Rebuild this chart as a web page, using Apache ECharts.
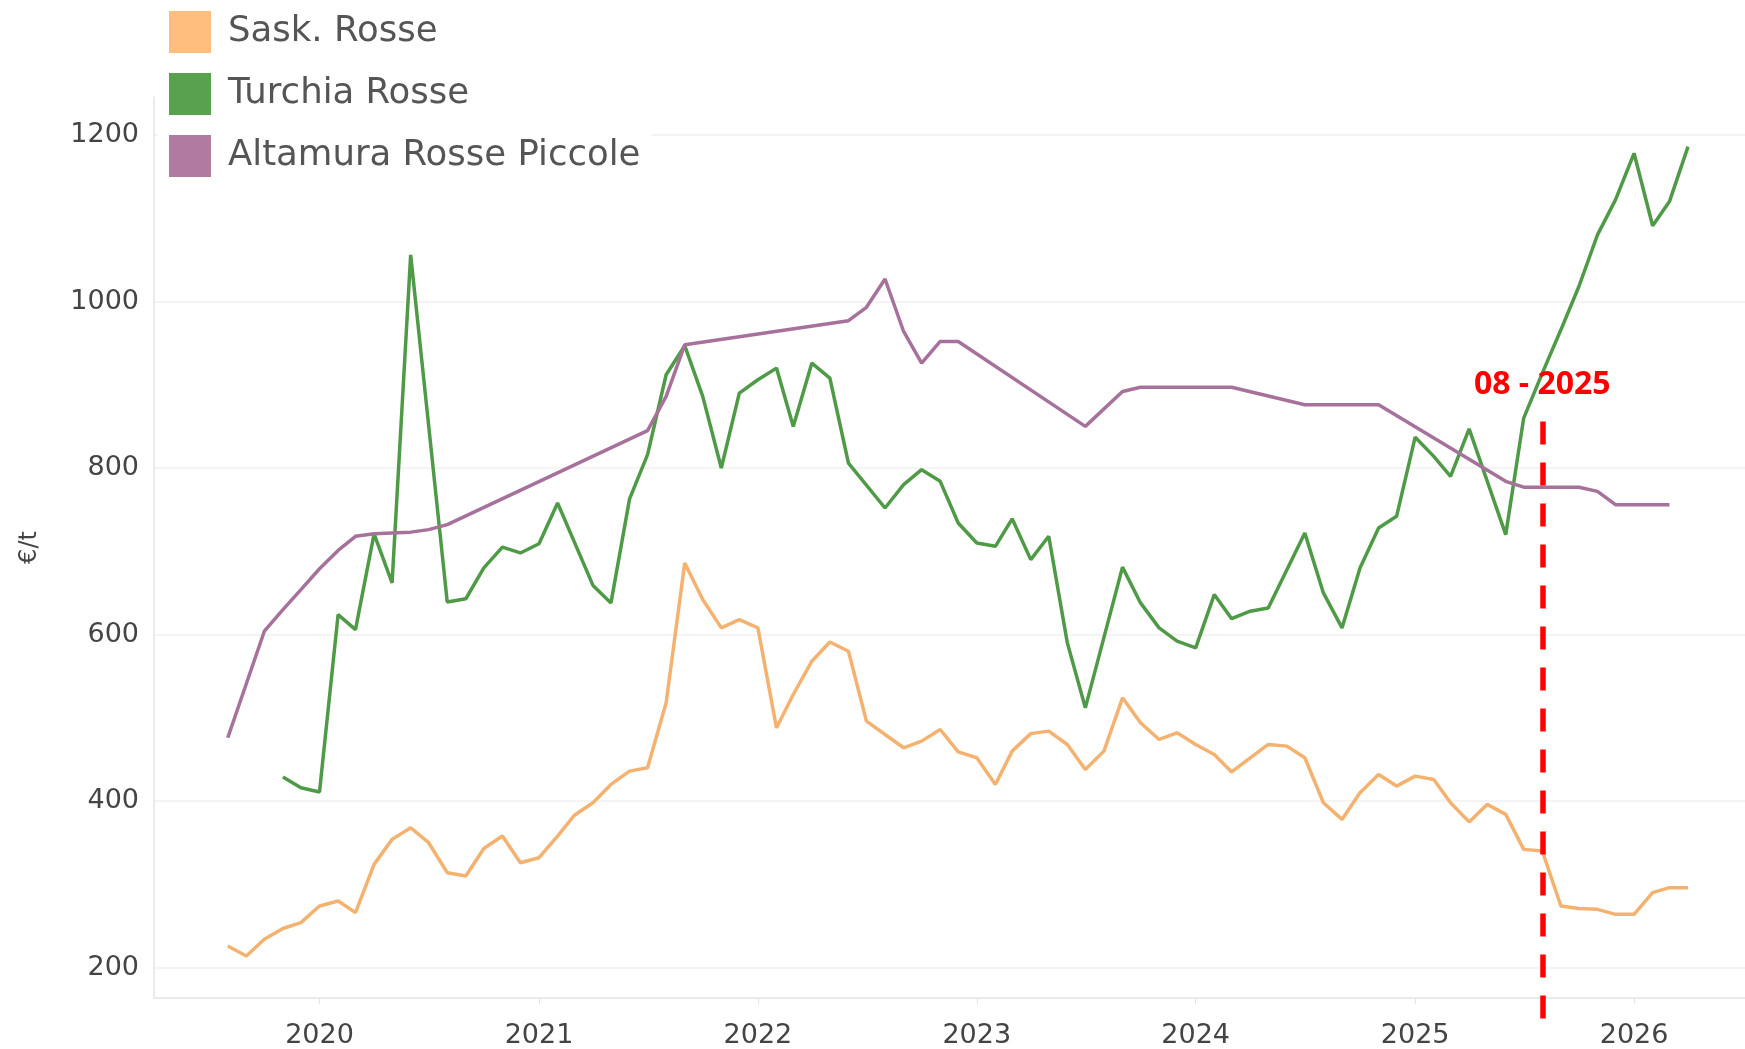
<!DOCTYPE html>
<html>
<head>
<meta charset="utf-8">
<script src="https://cdn.jsdelivr.net/npm/echarts@6/dist/echarts.min.js"></script>
<style>
  html, body { margin: 0; padding: 0; background: #fff; }
  #chart { width: 1745px; height: 1049px; }
</style>
</head>
<body>
<div id="chart"></div>
<script>
// monthly prices, €/t (null = no quote that month)
const months = [
    "2019-08-01", "2019-09-01", "2019-10-01", "2019-11-01", "2019-12-01",
    "2020-01-01", "2020-02-01", "2020-03-01", "2020-04-01", "2020-05-01", "2020-06-01",
    "2020-07-01", "2020-08-01", "2020-09-01", "2020-10-01", "2020-11-01", "2020-12-01",
    "2021-01-01", "2021-02-01", "2021-03-01", "2021-04-01", "2021-05-01", "2021-06-01",
    "2021-07-01", "2021-08-01", "2021-09-01", "2021-10-01", "2021-11-01", "2021-12-01",
    "2022-01-01", "2022-02-01", "2022-03-01", "2022-04-01", "2022-05-01", "2022-06-01",
    "2022-07-01", "2022-08-01", "2022-09-01", "2022-10-01", "2022-11-01", "2022-12-01",
    "2023-01-01", "2023-02-01", "2023-03-01", "2023-04-01", "2023-05-01", "2023-06-01",
    "2023-07-01", "2023-08-01", "2023-09-01", "2023-10-01", "2023-11-01", "2023-12-01",
    "2024-01-01", "2024-02-01", "2024-03-01", "2024-04-01", "2024-05-01", "2024-06-01",
    "2024-07-01", "2024-08-01", "2024-09-01", "2024-10-01", "2024-11-01", "2024-12-01",
    "2025-01-01", "2025-02-01", "2025-03-01", "2025-04-01", "2025-05-01", "2025-06-01",
    "2025-07-01", "2025-08-01", "2025-09-01", "2025-10-01", "2025-11-01", "2025-12-01",
    "2026-01-01", "2026-02-01", "2026-03-01", "2026-04-01",
];

const saskRosse = [
    226, 214, 234, 247, 254,
    274, 280, 266, 324, 354, 368, 350, 314, 310, 343, 358, 326,
    332, 358, 383, 398, 420, 436, 440, 518, 686, 642, 608, 618,
    608, 488, 528, 568, 591, 580, 496, 480, 464, 472, 486, 459,
    452, 420, 460, 481, 484, 468, 438, 460, 524, 494, 474, 482,
    468, 456, 435, 452, 468, 466, 452, 398, 378, 410, 432, 418,
    430, 426, 398, 375, 396, 384, 342, 340, 274, 271, 270, 264,
    264, 290, 296, 296,
];

const turchiaRosse = [
    null, null, null, 429, 416,
    411, 624, 606, 721, 662, 1056, null, 639, 643, 680, 705, 698,
    709, 758, null, 659, 638, 763, 816, 912, 947, 886, 800, 890,
    906, 920, 850, 926, 908, 806, null, 752, 780, 798, 784, 734,
    710, 706, 739, 690, 718, 590, 512, null, 681, 638, 608, 592,
    584, 648, 619, 628, 632, null, 722, 650, 608, 680, 728, 742,
    837, 814, 790, 847, null, 720, 860, 914, 966, 1018, 1080, 1122,
    1178, 1091, 1120, 1186,
];

const altamuraRossePiccole = [
    476, null, 604, 630, 654,
    679, 701, 718, 721, 722, 723, 726, 732, null, null, null, null,
    null, null, null, null, null, null, 845, 886, 948, null, null, null,
    null, null, null, null, null, 977, 993, 1027, 964, 926, 952, 952,
    null, null, null, null, null, null, 850, null, 892, 897, 897, 897,
    897, 897, 897, null, null, null, 876, 876, 876, 876, 876, null,
    null, null, null, null, null, 784, 777, 777, 777, 777, 772, 756,
    756, 756, 756, null,
];

const yTicks = [200, 400, 600, 800, 1000, 1200];

// reference month marker
const cutoffMonth = "2025-08-01";
const cutoffLabel = "08 - 2025";
const cutoffTop = 856;

const pairs = (vals) => months.map((m, i) => [m, vals[i]]);

const chart = echarts.init(document.getElementById("chart"), null, { renderer: "canvas" });

const axisFont = { fontFamily: "DejaVu Sans", fontSize: 27, color: "#444" };

const option = {
    animation: false,
    backgroundColor: "#fff",
    grid: { left: 154, right: 0, top: 97, bottom: 50, containLabel: false },
    legend: {
        orient: "vertical",
        left: 158,
        top: 0,
        padding: [11, 11, 11, 11],
        itemGap: 20,
        itemWidth: 42,
        itemHeight: 42,
        icon: "rect",
        backgroundColor: "#fff",
        selectedMode: false,
        textStyle: {
            fontFamily: "DejaVu Sans",
            fontSize: 35.5,
            color: "#555",
            padding: [0, 0, 0, 12],
        },
        data: ["Sask. Rosse", "Turchia Rosse", "Altamura Rosse Piccole"],
    },
    xAxis: {
        type: "time",
        min: "2019-03-31",
        max: "2026-07-05",
        minInterval: 365 * 24 * 3600 * 1000,
        maxInterval: 366 * 24 * 3600 * 1000,
        splitLine: { show: false },
        axisLine: { show: true, lineStyle: { color: "#e3e3e3", width: 1.5 } },
        axisTick: { show: true, length: 6, lineStyle: { color: "#e3e3e3" } },
        axisLabel: {
            ...axisFont,
            margin: 24,
            formatter: "{yyyy}",
            showMinLabel: false,
            showMaxLabel: false,
        },
    },
    yAxis: {
        type: "value",
        min: 163.5,
        max: 1245.6,
        name: "€/t",
        nameLocation: "middle",
        nameRotate: 90,
        nameGap: 112,
        nameTextStyle: { fontFamily: "DejaVu Sans", fontSize: 24, color: "#444" },
        axisLine: { show: true, lineStyle: { color: "#e6e6e6", width: 1.5 } },
        axisTick: { show: false, customValues: yTicks },
        axisLabel: {
            ...axisFont,
            margin: 15,
            customValues: yTicks,
            formatter: (v) => String(v),
        },
        splitLine: { show: true, lineStyle: { color: "#f1f1f1", width: 1.5 } },
    },
    series: [
        {
            name: "Sask. Rosse",
            type: "line",
            data: pairs(saskRosse),
            connectNulls: true,
            showSymbol: false,
            symbol: "none",
            itemStyle: { color: "#FFBE7D" },
            lineStyle: { color: "#F4B271", width: 3.5 },
        },
        {
            name: "Turchia Rosse",
            type: "line",
            data: pairs(turchiaRosse),
            connectNulls: true,
            showSymbol: false,
            symbol: "none",
            itemStyle: { color: "#59A14F" },
            lineStyle: { color: "#4F9A46", width: 3.5 },
            markLine: {
                silent: true,
                symbol: ["none", "none"],
                lineStyle: { color: "#ff0000", width: 5.5, type: [23, 18] },
                label: {
                    show: true,
                    position: "start",
                    distance: 21,
                    formatter: cutoffLabel,
                    color: "#ff0000",
                    fontFamily: "Open Sans",
                    fontWeight: "bold",
                    fontSize: 32,
                },
                emphasis: { disabled: true },
                // bottom end runs past the x axis, like the reference
                data: [[{ coord: [cutoffMonth, cutoffTop] }, { coord: [cutoffMonth, 200], y: 1032 }]],
            },
        },
        {
            name: "Altamura Rosse Piccole",
            type: "line",
            data: pairs(altamuraRossePiccole),
            connectNulls: true,
            showSymbol: false,
            symbol: "none",
            itemStyle: { color: "#B07AA1" },
            lineStyle: { color: "#A6719A", width: 3.5 },
        },
    ],
};

chart.setOption(option);
window.addEventListener("resize", () => chart.resize());
</script>
</body>
</html>
